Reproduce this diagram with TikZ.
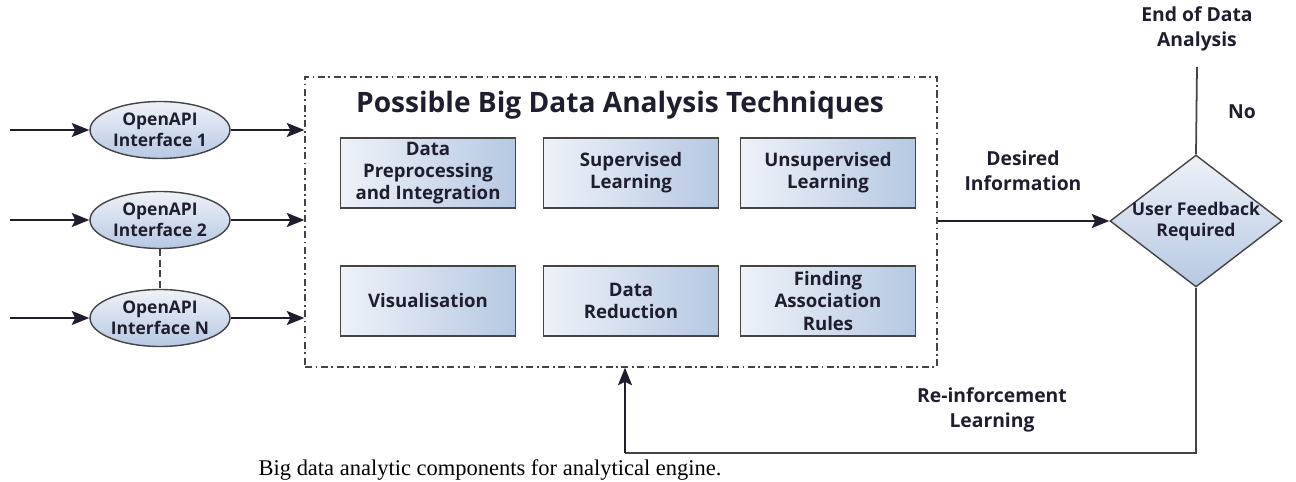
\documentclass[tikz,border=0pt]{standalone}
\usepackage{fontspec}
\setmainfont{Open Sans}
\newfontfamily\capfont{Liberation Serif}
\usepackage{xcolor}
\usetikzlibrary{shapes.geometric}
\usetikzlibrary{arrows.meta}
\definecolor{boxlight}{HTML}{EEF2F8}
\definecolor{boxdark}{HTML}{B6C8E2}
\definecolor{inktext}{HTML}{1E1E2E}
\definecolor{linegray}{HTML}{444444}
\tikzstyle{apinode} = [draw=linegray, thick, ellipse, top color=boxlight, bottom color=boxdark,
minimum width=2.8cm, minimum height=1.14cm, inner sep=0pt, align=center,
font=\bfseries\fontsize{9.9}{12}\selectfont, text=inktext]
\tikzstyle{techbox} = [draw=linegray, thick, rectangle, left color=boxlight, right color=boxdark,
minimum width=3.5cm, minimum height=1.4cm, inner sep=2pt, align=center,
font=\bfseries\fontsize{10.6}{12.6}\selectfont, text=inktext]
\tikzstyle{groupbox} = [draw=linegray, thick, dash pattern=on 4pt off 2pt on 1pt off 2pt,
minimum width=12.64cm, minimum height=5.8cm]
\tikzstyle{decision} = [draw=linegray, thick, diamond, top color=boxlight, bottom color=boxdark,
minimum width=3.44cm, minimum height=2.64cm, inner sep=0pt]
\tikzstyle{flowlabel} = [align=center, font=\bfseries\fontsize{11}{14}\selectfont, text=inktext]
\tikzstyle{flow} = [draw=inktext, line width=1pt, -{Stealth[length=10pt,width=8pt,inset=2pt]}]

\begin{document}
\begin{tikzpicture}[x=0.02cm, y=-0.02cm]
    \useasboundingbox (0,0) rectangle (1296,482);
    % analysis block
    \node [groupbox] (grp) at (621,222) {};
    \node [font=\bfseries\fontsize{16}{19}\selectfont, text=inktext] (title) at (620,105) {Possible Big Data Analysis Techniques};
    \node [techbox] (prep) at (428,173) {Data\\Preprocessing\\and Integration};
    \node [techbox] (sup) at (631,173) {Supervised\\Learning};
    \node [techbox] (unsup) at (828,173) {Unsupervised\\Learning};
    \node [techbox] (vis) at (428,301) {Visualisation};
    \node [techbox] (red) at (631,301) {Data\\Reduction};
    \node [techbox] (assoc) at (828,301) {Finding\\Association\\Rules};
    % inputs
    \node [apinode] (api1) at (160,130) {OpenAPI\\Interface 1};
    \node [apinode] (api2) at (160,220) {OpenAPI\\Interface 2};
    \node [apinode] (apiN) at (160,318) {OpenAPI\\Interface N};
    \coordinate (in1) at (10,130);
    \coordinate (in2) at (10,220);
    \coordinate (inN) at (10,318);
    \draw [flow] (in1) -- (api1);
    \draw [flow] (in2) -- (api2);
    \draw [flow] (inN) -- (apiN);
    \draw [flow] (api1) -- (api1 -| grp.west);
    \draw [flow] (api2) -- (api2 -| grp.west);
    \draw [flow] (apiN) -- (apiN -| grp.west);
    \draw [linegray, thick, dash pattern=on 4pt off 2pt] (api2) -- (apiN);
    % decision
    \node [decision, label={[font=\bfseries\fontsize{10}{12}\selectfont, text=inktext, align=center]center:User Feedback\\Required}] (fb) at (1196,221) {};
    \draw [flow] (fb -| grp.east) -- (fb);
    \node [flowlabel] (want) at (1023,171) {Desired\\Information};
    \coordinate (stop) at (1197,67);
    \draw [linegray, line width=1pt] (fb.north) -- (stop);
    \node [flowlabel] (endlbl) at (1197,29) {End of Data\\Analysis};
    \node [flowlabel] (no) at (1242,112) {No};
    \coordinate (loop) at (625,453);
    \draw [linegray, line width=1pt] (fb.south) |- (loop);
    \draw [flow] (loop) -- (loop |- grp.south);
    \node [flowlabel] (reinf) at (992,410) {Re-inforcement\\Learning};
    \node [font=\capfont\fontsize{12.8}{15}\selectfont] (cap) at (490,470) {Big data analytic components for analytical engine.};
\end{tikzpicture}
\end{document}
